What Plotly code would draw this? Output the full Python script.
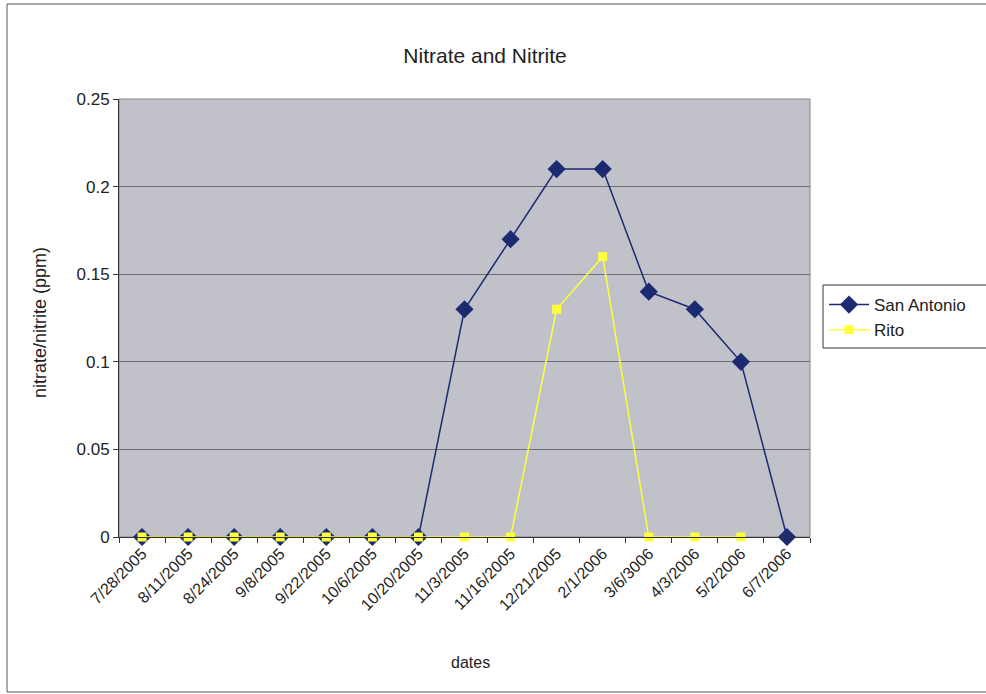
import plotly.graph_objects as go

dates = ["7/28/2005", "8/11/2005", "8/24/2005", "9/8/2005", "9/22/2005",
         "10/6/2005", "10/20/2005", "11/3/2005", "11/16/2005", "12/21/2005",
         "2/1/2006", "3/6/3006", "4/3/2006", "5/2/2006", "6/7/2006"]
san_antonio = [0, 0, 0, 0, 0, 0, 0, 0.13, 0.17, 0.21, 0.21, 0.14, 0.13, 0.10, 0]
rito = [0, 0, 0, 0, 0, 0, 0, 0, 0, 0.13, 0.16, 0, 0, 0, None]

W, H = 986, 694
L, R, T, B = 119, 810, 99, 537
pw, ph = R - L, B - T

def px(x):
    return (x - L) / pw

def py(y):
    return (B - y) / ph

fig = go.Figure()
fig.add_trace(go.Scatter(
    x=dates, y=san_antonio, name="San Antonio", mode="lines+markers",
    line=dict(color="#1c2a72", width=1.5), cliponaxis=False,
    marker=dict(symbol="diamond", size=14, color="#1c2a72"),
))
fig.add_trace(go.Scatter(
    x=dates, y=rito, name="Rito", mode="lines+markers",
    line=dict(color="#ffff3a", width=1.5), cliponaxis=False,
    marker=dict(symbol="square", size=9, color="#ffff3a"),
))

font = "Liberation Sans, Arial, sans-serif"
ink = "#222"

fig.update_layout(
    width=W, height=H,
    margin=dict(l=L, r=W - R, t=T, b=H - B),
    paper_bgcolor="white",
    plot_bgcolor="#c0c1c9",
    font=dict(family=font, size=15, color=ink),
    title=dict(text="Nitrate and Nitrite", x=485 / W, xanchor="center",
               y=1 - 56 / H, yanchor="middle",
               font=dict(size=21, family=font, color=ink)),
    showlegend=True,
    legend=dict(x=px(824), y=py(287), xanchor="left", yanchor="top",
                bgcolor="rgba(0,0,0,0)", borderwidth=0,
                font=dict(size=17, family=font, color=ink),
                tracegroupgap=0, itemwidth=40),
    xaxis=dict(
        type="category", range=[-0.5, 14.5],
        tickangle=-45, tickfont=dict(size=16),
        ticks="outside", tickson="boundaries", ticklen=5, tickcolor="#333",
        showline=True, linecolor="#333", linewidth=1,
        showgrid=False, zeroline=False,
    ),
    yaxis=dict(
        range=[0, 0.25], dtick=0.05, tickformat="~g",
        ticks="outside", ticklen=5, tickcolor="#333",
        showline=True, linecolor="#333", linewidth=1,
        showgrid=True, gridcolor="#6e6e74", gridwidth=1,
        zeroline=False, tickfont=dict(size=17),
    ),
    annotations=[
        dict(text="dates", xref="paper", yref="paper",
             x=px(470), y=py(662), xanchor="center", yanchor="middle",
             showarrow=False, font=dict(size=16, family=font, color=ink)),
        dict(text="nitrate/nitrite (ppm)", xref="paper", yref="paper",
             x=px(40), y=py(323), xanchor="center", yanchor="middle",
             textangle=-90, showarrow=False,
             font=dict(size=18, family=font, color=ink)),
    ],
    shapes=[
        dict(type="rect", xref="paper", yref="paper",
             x0=px(7), x1=px(1000), y0=py(692), y1=py(4),
             line=dict(color="#555", width=1), fillcolor="rgba(0,0,0,0)",
             layer="below"),
        dict(type="rect", xref="paper", yref="paper",
             x0=0, x1=1, y0=0, y1=1,
             line=dict(color="#888", width=1), fillcolor="rgba(0,0,0,0)",
             layer="below"),
        dict(type="rect", xref="paper", yref="paper",
             x0=px(823), x1=px(1000), y0=py(348), y1=py(285),
             line=dict(color="#333", width=1), fillcolor="white",
             layer="below"),
    ],
)

fig.write_html("out.html")
